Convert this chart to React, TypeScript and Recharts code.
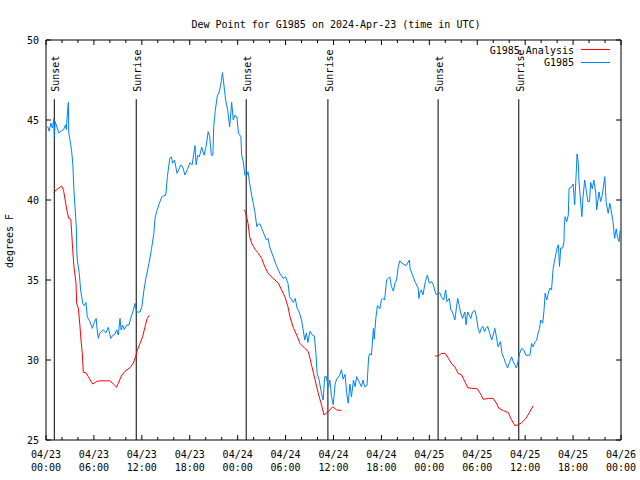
import { LineChart, Line, XAxis, YAxis, ReferenceLine, ReferenceArea } from 'recharts';

const FONT = '"DejaVu Sans Mono", monospace';

// x axis: hours since 04/23 00:00 UTC
const tickHours = [0, 6, 12, 18, 24, 30, 36, 42, 48, 54, 60, 66, 72];
const tickDays = ['04/23', '04/23', '04/23', '04/23', '04/24', '04/24', '04/24', '04/24', '04/25', '04/25', '04/25', '04/25', '04/26'];
const tickTimes = ['00:00', '06:00', '12:00', '18:00', '00:00', '06:00', '12:00', '18:00', '00:00', '06:00', '12:00', '18:00', '00:00'];
const yTicks = [25, 30, 35, 40, 45, 50];

const sunEvents = [
  { hour: 1.04, name: 'Sunset' },
  { hour: 11.3, name: 'Sunrise' },
  { hour: 25.07, name: 'Sunset' },
  { hour: 35.3, name: 'Sunrise' },
  { hour: 49.1, name: 'Sunset' },
  { hour: 59.2, name: 'Sunrise' },
];

// G1985 observed dew point [hour, degF]
const observed: [number, number][] = [
  [0.2, 44.6], [0.4, 44.3], [0.6, 44.8], [0.8, 44.5], [1.0, 45.1], [1.05, 43.9], [1.15, 44.9], [1.4, 44.5],
  [1.6, 44.2], [1.9, 44.3], [2.2, 44.4], [2.45, 44.7], [2.55, 44.4], [2.7, 45.6], [2.8, 46.1], [2.85, 44.2],
  [3.0, 43.75], [3.2, 43.1], [3.35, 42.3], [3.5, 40.6], [3.6, 39.8], [3.8, 38.25], [3.85, 36.9], [3.92, 36.25],
  [4.17, 35.4], [4.35, 34.3], [4.47, 33.96], [4.6, 33.54], [4.8, 33.4], [5.0, 33.6], [5.17, 32.7], [5.5, 32.4],
  [5.8, 31.98], [6.0, 32.3], [6.28, 32.6], [6.4, 31.9], [6.55, 31.35], [6.75, 31.7], [7.0, 31.8], [7.18, 31.88],
  [7.5, 31.7], [7.8, 32.04], [8.0, 31.6], [8.1, 31.35], [8.4, 31.56], [8.6, 31.6], [8.85, 31.88], [9.05, 31.56],
  [9.27, 32.6], [9.4, 31.88], [9.6, 32.19], [9.8, 31.9], [10.1, 32.19], [10.4, 32.19], [10.6, 32.6], [10.94, 33.13],
  [11.15, 33.54], [11.33, 33.0], [11.77, 33.0], [12.0, 33.33], [12.27, 34.38], [12.5, 35.1], [12.8, 35.8], [13.2, 36.9],
  [13.5, 37.9], [13.65, 38.85], [13.85, 39.27], [14.2, 39.8], [14.5, 40.2], [14.7, 40.27], [15.0, 40.3], [15.2, 41.46],
  [15.5, 42.6], [15.7, 42.7], [15.85, 42.3], [16.1, 42.5], [16.4, 41.67], [16.9, 42.2], [17.1, 42.1], [17.4, 41.56],
  [17.7, 41.9], [18.0, 42.33], [18.3, 42.2], [18.66, 43.4], [18.8, 42.2], [19.0, 42.8], [19.2, 42.7], [19.5, 43.3],
  [19.8, 42.8], [20.1, 43.5], [20.3, 44.27], [20.5, 43.96], [20.7, 42.8], [20.9, 42.8], [21.0, 44.6], [21.2, 45.6],
  [21.45, 46.5], [21.66, 46.7], [21.85, 47.1], [22.1, 47.96], [22.25, 47.3], [22.5, 46.25], [22.75, 45.6], [23.0, 44.58],
  [23.25, 46.1], [23.45, 45.0], [23.65, 45.3], [23.9, 45.2], [24.1, 44.17], [24.4, 43.96], [24.5, 42.8], [24.7, 42.4],
  [24.9, 41.56], [25.1, 41.5], [25.3, 41.77], [25.5, 41.04], [25.75, 40.3], [25.95, 39.8], [26.15, 39.27], [26.4, 38.33],
  [26.6, 38.5], [26.8, 38.5], [27.0, 38.23], [27.2, 38.0], [27.6, 37.5], [27.8, 37.6], [28.05, 37.0], [28.45, 36.46],
  [28.85, 35.9], [29.3, 35.4], [29.7, 35.1], [30.0, 35.2], [30.3, 34.8], [30.5, 33.96], [30.96, 33.6], [31.2, 33.85],
  [31.45, 33.23], [31.7, 33.0], [32.0, 32.5], [32.2, 31.88], [32.4, 31.25], [32.6, 31.7], [32.8, 31.1], [33.05, 31.8],
  [33.35, 31.56], [33.6, 31.5], [33.8, 30.4], [33.95, 29.17], [34.2, 28.75], [34.5, 27.9], [34.7, 27.5], [34.9, 28.96],
  [35.1, 28.96], [35.35, 28.33], [35.55, 28.75], [35.75, 27.7], [35.97, 27.2], [36.2, 28.5], [36.4, 28.8], [36.8, 29.06],
  [37.0, 29.4], [37.2, 28.8], [37.45, 29.1], [37.65, 27.9], [37.85, 27.3], [38.05, 28.5], [38.25, 27.7], [38.5, 28.75],
  [38.7, 28.33], [38.9, 28.96], [39.2, 28.65], [39.5, 28.33], [39.7, 28.75], [39.9, 28.33], [40.2, 28.4], [40.4, 30.2],
  [40.55, 30.4], [40.75, 30.3], [41.0, 31.98], [41.1, 31.3], [41.3, 32.6], [41.5, 33.4], [41.8, 33.2], [42.0, 33.75],
  [42.2, 33.85], [42.4, 33.75], [42.65, 35.0], [42.85, 35.1], [43.05, 35.2], [43.25, 34.6], [43.5, 34.3], [43.7, 34.8],
  [43.9, 35.0], [44.1, 35.8], [44.3, 36.2], [44.7, 36.0], [45.1, 35.9], [45.5, 36.25], [45.6, 35.7], [45.9, 35.3],
  [46.2, 34.9], [46.6, 34.5], [46.7, 33.85], [46.8, 34.17], [47.0, 34.38], [47.2, 34.06], [47.5, 34.9], [47.75, 35.3],
  [48.0, 34.8], [48.3, 34.9], [48.5, 34.7], [48.7, 34.3], [48.9, 34.06], [49.1, 34.17], [49.3, 34.2], [49.5, 33.96],
  [49.8, 33.75], [50.05, 34.38], [50.2, 33.65], [50.5, 33.85], [50.7, 33.13], [50.9, 33.0], [51.2, 32.5], [51.4, 33.3],
  [51.55, 33.85], [51.75, 33.4], [51.9, 33.0], [52.15, 32.6], [52.45, 33.0], [52.6, 32.2], [52.8, 33.0], [53.0, 32.8],
  [53.2, 32.6], [53.4, 33.0], [53.7, 33.1], [53.9, 32.7], [54.1, 31.98], [54.3, 31.67], [54.5, 31.98], [54.7, 32.1],
  [54.9, 31.77], [55.1, 31.98], [55.3, 32.1], [55.5, 31.77], [55.8, 31.25], [55.95, 31.46], [56.2, 31.98], [56.4, 31.46],
  [56.6, 30.83], [56.9, 31.15], [57.1, 30.4], [57.35, 30.1], [57.55, 29.8], [57.8, 29.5], [58.0, 29.8], [58.3, 30.2],
  [58.5, 29.9], [58.7, 29.7], [58.9, 29.5], [59.1, 29.9], [59.3, 30.4], [59.55, 30.73], [59.85, 30.6], [60.1, 30.3],
  [60.4, 30.3], [60.6, 30.3], [60.8, 31.04], [61.0, 30.83], [61.25, 31.15], [61.45, 31.25], [61.65, 31.77], [61.8, 31.98],
  [61.95, 32.5], [62.2, 32.3], [62.36, 33.1], [62.5, 34.17], [62.7, 33.75], [62.9, 34.17], [63.1, 34.5], [63.3, 34.38],
  [63.5, 35.7], [63.7, 36.25], [63.95, 36.9], [64.15, 37.2], [64.3, 35.85], [64.45, 37.0], [64.7, 37.0], [64.86, 37.4],
  [64.9, 38.33], [65.0, 38.96], [65.2, 38.65], [65.4, 39.06], [65.5, 40.73], [65.8, 40.8], [66.0, 41.0], [66.2, 39.7],
  [66.35, 41.25], [66.5, 42.88], [66.65, 42.3], [66.75, 41.06], [66.9, 40.2], [67.1, 38.96], [67.25, 40.2], [67.45, 41.25],
  [67.65, 40.6], [67.85, 39.9], [68.05, 39.9], [68.2, 41.1], [68.4, 40.7], [68.6, 41.25], [68.85, 40.4], [68.95, 39.38],
  [69.25, 40.5], [69.45, 39.9], [69.65, 40.3], [69.97, 41.46], [70.15, 39.8], [70.4, 39.17], [70.6, 39.8], [70.8, 39.27],
  [71.0, 38.65], [71.2, 37.6], [71.4, 38.2], [71.55, 37.7], [71.75, 37.4], [71.9, 38.1], [72.0, 37.9],
];

// G1985 Analysis, one run per night [hour, degF]
const analysisNight1: [number, number][] = [
  [0.92, 40.48], [1.96, 40.88], [2.2, 40.6], [2.4, 40.0], [2.6, 39.38], [2.85, 38.85], [3.1, 38.8], [3.2, 38.1],
  [3.34, 36.9], [3.5, 35.83], [3.76, 34.8], [3.84, 33.54], [4.05, 33.23], [4.26, 32.08], [4.38, 31.25], [4.55, 30.4],
  [4.67, 29.23], [5.0, 29.2], [5.3, 28.96], [5.84, 28.5], [6.34, 28.65], [6.76, 28.7], [8.0, 28.7], [8.43, 28.5],
  [8.85, 28.3], [9.05, 28.55], [9.5, 29.06], [9.9, 29.3], [10.52, 29.52], [10.93, 29.8], [11.27, 30.3], [11.43, 30.6],
  [11.77, 31.04], [12.1, 31.46], [12.4, 32.08], [12.68, 32.6], [12.93, 32.8],
];
const analysisNight2: [number, number][] = [
  [24.8, 39.38], [24.95, 39.3], [25.3, 38.54], [25.5, 37.7], [25.75, 37.3], [26.2, 36.9], [26.6, 36.67], [27.0, 36.35],
  [27.4, 35.83], [27.8, 35.42], [28.45, 35.1], [29.1, 34.8], [29.5, 34.38], [29.9, 33.96], [30.3, 33.33], [30.55, 32.7],
  [31.0, 31.98], [31.4, 31.56], [31.8, 31.04], [32.4, 30.73], [32.85, 30.52], [33.3, 29.58], [33.7, 28.75], [34.1, 27.9],
  [34.5, 27.19], [34.8, 26.56], [35.35, 26.77], [35.9, 27.08], [36.4, 26.88], [37.0, 26.85],
];
const analysisNight3: [number, number][] = [
  [48.7, 30.25], [49.1, 30.25], [49.5, 30.4], [49.96, 30.42], [50.4, 30.1], [50.8, 29.75], [51.2, 29.58], [51.6, 29.17],
  [52.05, 29.06], [52.45, 28.65], [52.8, 28.27], [53.3, 28.23], [54.0, 28.2], [54.4, 27.9], [54.76, 27.54], [55.4, 27.6],
  [56.0, 27.6], [56.4, 27.3], [56.7, 26.98], [57.3, 26.83], [57.9, 26.71], [58.2, 26.35], [58.7, 25.9], [59.1, 25.94],
  [59.55, 26.08], [60.1, 26.35], [60.6, 26.77], [61.0, 27.13],
];

const RED = '#ff0000';
const BLUE = '#0080ff';

const toRows = (pts: [number, number][]) => pts.map(([h, v]) => ({ h, v }));

// one screen pixel in data units (plot is 575 x 400 px)
const PX_H = 72 / 575;
const PX_V = 25 / 400;

const minorHours = Array.from({ length: 37 }, (_, i) => i * 2);

const XTick = ({ x, y, payload }: any) => {
  const i = tickHours.indexOf(payload.value);
  return (
    <text x={x} y={y} textAnchor="middle" fontFamily={FONT} fontSize={10} fill="#000">
      <tspan x={x} dy={18}>{tickDays[i]}</tspan>
      <tspan x={x} dy={13}>{tickTimes[i]}</tspan>
    </text>
  );
};

const YTick = ({ x, y, payload }: any) => (
  <text x={x - 7} y={y} dy={4} textAnchor="end" fontFamily={FONT} fontSize={10} fill="#000">
    {payload.value}
  </text>
);

const sunLabel = (name: string) => (props: any) => {
  const { x, y } = props.viewBox;
  const tx = x + 5;
  const ty = y - 7.5;
  return (
    <text x={tx} y={ty} transform={`rotate(-90 ${tx} ${ty})`} textAnchor="start"
      fontFamily={FONT} fontSize={10} fill="#000">
      {name}
    </text>
  );
};

export default function App() {
  return (
    <div style={{ position: 'absolute', left: 0, top: 0, background: '#fff' }}>
      <LineChart width={640} height={480} margin={{ top: 40, right: 19, bottom: 0, left: 0 }}>
        <XAxis dataKey="h" type="number" domain={[0, 72]} ticks={tickHours} height={40}
          axisLine={false} tickLine={false} tickSize={0} tickMargin={0} tick={<XTick />} interval={0} />
        <YAxis type="number" domain={[25, 50]} ticks={yTicks} width={46}
          axisLine={false} tickLine={false} tickSize={0} tickMargin={0} tick={<YTick />} interval={0} />

        <ReferenceArea x1={0} x2={72} y1={25} y2={50} fill="none" stroke="#000" strokeWidth={1} />

        {minorHours.map((h) => {
          const len = (h % 6 === 0 ? 5 : 3) * PX_V;
          return [
            <ReferenceLine key={`b${h}`} segment={[{ x: h, y: 25 }, { x: h, y: 25 + len }]} stroke="#000" />,
            <ReferenceLine key={`t${h}`} segment={[{ x: h, y: 50 }, { x: h, y: 50 - len }]} stroke="#000" />,
          ];
        })}
        {yTicks.map((v) => [
          <ReferenceLine key={`l${v}`} segment={[{ x: 0, y: v }, { x: 5 * PX_H, y: v }]} stroke="#000" />,
          <ReferenceLine key={`r${v}`} segment={[{ x: 72, y: v }, { x: 72 - 5 * PX_H, y: v }]} stroke="#000" />,
        ])}

        {sunEvents.map((e, i) => (
          <ReferenceLine key={`sun${i}`} segment={[{ x: e.hour, y: 25 }, { x: e.hour, y: 46.3 }]}
            stroke="#000" strokeWidth={1} label={sunLabel(e.name)} />
        ))}

        <Line data={toRows(analysisNight1)} dataKey="v" stroke={RED} strokeWidth={1} dot={false} activeDot={false} isAnimationActive={false} />
        <Line data={toRows(analysisNight2)} dataKey="v" stroke={RED} strokeWidth={1} dot={false} activeDot={false} isAnimationActive={false} />
        <Line data={toRows(analysisNight3)} dataKey="v" stroke={RED} strokeWidth={1} dot={false} activeDot={false} isAnimationActive={false} />
        <Line data={toRows(observed)} dataKey="v" stroke={BLUE} strokeWidth={1} dot={false} activeDot={false} isAnimationActive={false} />

        <text x={336} y={28} textAnchor="middle" fontFamily={FONT} fontSize={10} fill="#000">
          Dew Point for G1985 on 2024-Apr-23 (time in UTC)
        </text>
        <text x={13} y={241} transform="rotate(-90 13 241)" textAnchor="middle" fontFamily={FONT} fontSize={10} fill="#000">
          degrees F
        </text>

        <g>
          <text x={574} y={53.5} textAnchor="end" fontFamily={FONT} fontSize={10} fill="#000">G1985 Analysis</text>
          <line x1={581} x2={610} y1={49.5} y2={49.5} stroke={RED} strokeWidth={1} />
          <text x={574} y={66} textAnchor="end" fontFamily={FONT} fontSize={10} fill="#000">G1985</text>
          <line x1={581} x2={610} y1={62.5} y2={62.5} stroke={BLUE} strokeWidth={1} />
        </g>
      </LineChart>
    </div>
  );
}
